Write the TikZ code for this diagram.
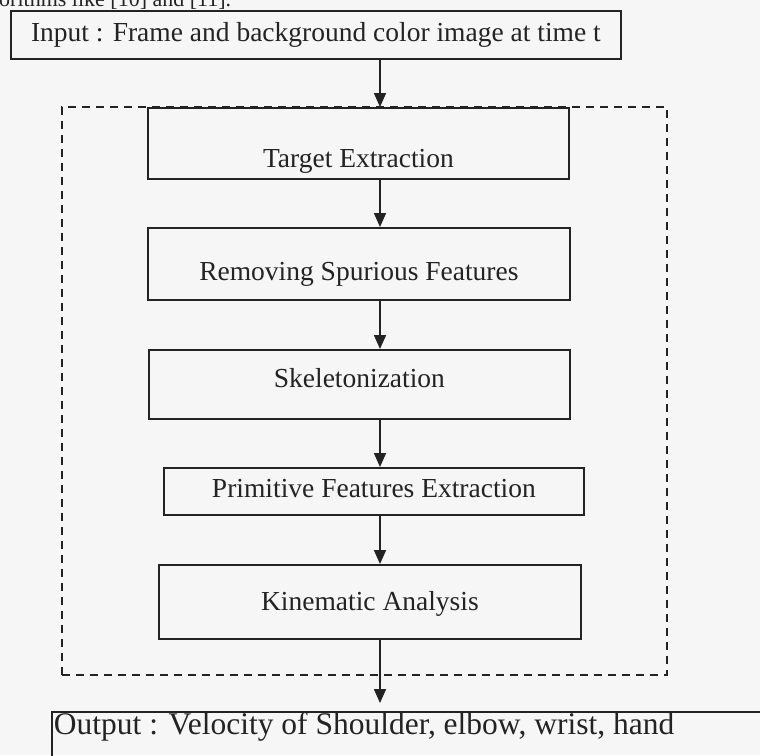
\documentclass[tikz,border=0pt]{standalone}
\usepackage{fontspec}
\setmainfont{Liberation Serif}
\usetikzlibrary{arrows.meta}

\definecolor{ink}{RGB}{35,35,35}
\definecolor{paper}{RGB}{246,246,246}
\newcommand{\boxfont}{\fontsize{27.5}{30}\selectfont}
\newcommand{\outfont}{\fontsize{31.5}{34}\selectfont}
\newcommand{\bodyfont}{\fontsize{22}{26}\selectfont}

\begin{document}
\begin{tikzpicture}[x=1pt, y=-1pt,
  stage/.style={draw=ink, text=ink, line width=1.8pt, anchor=north west,
    inner xsep=0pt, inner ysep=0pt, font=\boxfont},
  group/.style={draw=ink, line width=1.6pt, dash pattern=on 8pt off 6pt,
    anchor=north west, inner sep=0pt},
  flow/.style={draw=ink, line width=1.6pt, -{Triangle[length=14pt, width=12pt]}}]
\useasboundingbox (0,0) rectangle (760,755);
\fill[paper] (0,0) rectangle (760,755);
\clip (0,0) rectangle (760,755);

\node[anchor=base west, text=ink, font=\bodyfont, inner sep=0pt] (cut) at (-1,6.5) {orithms like [10] and [11].};

\node[stage, minimum width=610pt, text height=30.7pt, text depth=17.3pt] (input) at (10,10) {Input : Frame and background color image at time t};
\node[group, minimum width=605pt, minimum height=568pt] (core) at (61,106) {};
\node[stage, minimum width=421pt, text height=60pt, text depth=11pt] (target) at (147,107) {Target Extraction};
\node[stage, minimum width=422pt, text height=53pt, text depth=19pt] (spurious) at (147,227) {Removing Spurious Features};
\node[stage, minimum width=421pt, text height=38pt, text depth=31pt] (skeleton) at (148,349) {Skeletonization};
\node[stage, minimum width=420pt, text height=30pt, text depth=17pt] (primitive) at (163,467) {Primitive Features Extraction};
\node[stage, minimum width=422pt, text height=46pt, text depth=28pt] (kinematic) at (158,564) {Kinematic Analysis};
\node[stage, font=\outfont, text width=760pt, align=flush left, inner xsep=2pt, text height=23pt, text depth=40pt] (output) at (51,711) {Output : Velocity of Shoulder, elbow, wrist, hand};

\coordinate (spine) at (380,0);
\draw[flow] (input.south -| spine) -- (target.north -| spine);
\draw[flow] (target.south -| spine) -- (spurious.north -| spine);
\draw[flow] (spurious.south -| spine) -- (skeleton.north -| spine);
\draw[flow] (skeleton.south -| spine) -- (primitive.north -| spine);
\draw[flow] (primitive.south -| spine) -- (kinematic.north -| spine);
\draw[flow, shorten >=8pt] (kinematic.south -| spine) -- (output.north -| spine);
\end{tikzpicture}
\end{document}
